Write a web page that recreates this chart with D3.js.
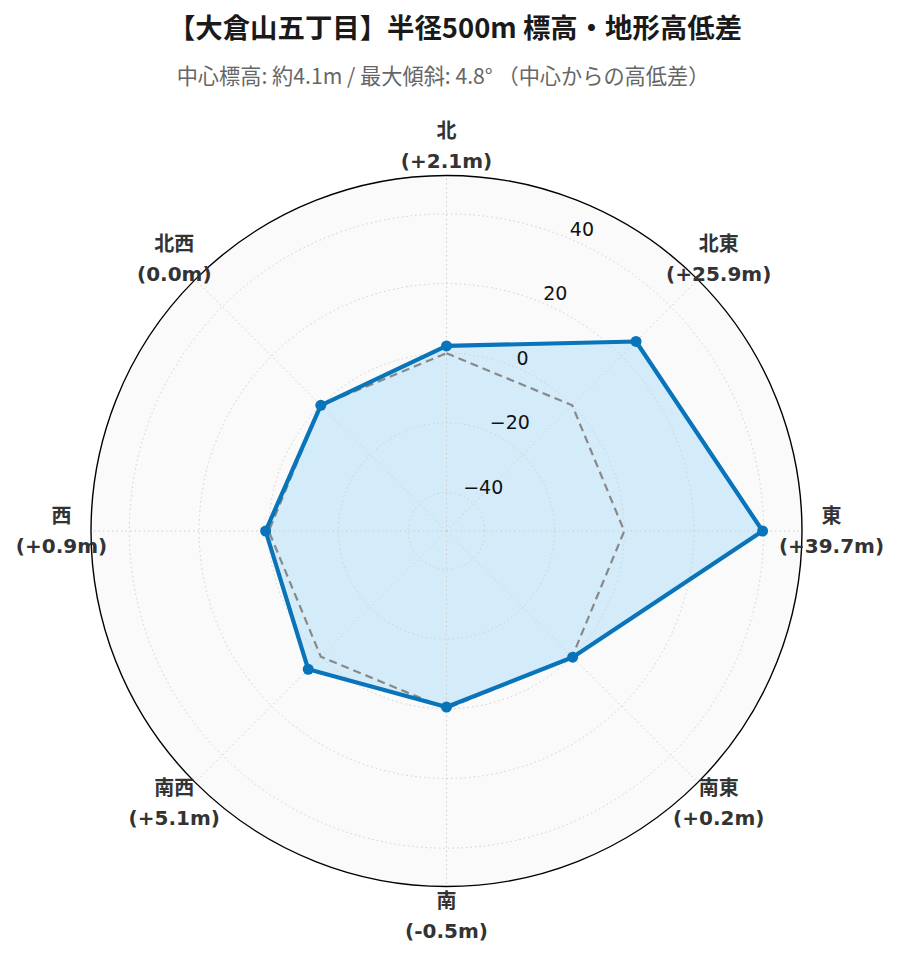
<!DOCTYPE html>
<html>
<head>
<meta charset="utf-8">
<script src="https://cdn.jsdelivr.net/npm/d3@7"></script>
<style>
  body { margin: 0; background: #fff; }
  svg { display: block; }
</style>
</head>
<body>
<svg id="chart"></svg>
<script>
// Directions (clockwise from north) and height difference from centre, m
const directions = ["北", "北東", "東", "南東", "南", "南西", "西", "北西"];
const diffs = [2.1, 25.9, 39.7, 0.2, -0.5, 5.1, 0.9, 0.0];
const diffLabels = ["(+2.1m)", "(+25.9m)", "(+39.7m)", "(+0.2m)", "(-0.5m)", "(+5.1m)", "(+0.9m)", "(0.0m)"];
const radialTicks = [-40, -20, 0, 20, 40];
const rDomain = [-51, 51];

const titleText = "【大倉山五丁目】半径500m 標高・地形高低差";
const subtitleText = "中心標高: 約4.1m / 最大傾斜: 4.8° （中心からの高低差）";

const width = 900, height = 962;
const cx = 446.5, cy = 531, R = 355.5;

const svg = d3.select("#chart")
  .attr("width", width)
  .attr("height", height);

// Title and subtitle
svg.append("text")
  .attr("x", 455).attr("y", 38)
  .attr("text-anchor", "middle")
  .style("font-family", "'Noto Sans CJK JP', sans-serif")
  .style("font-weight", "bold")
  .style("font-size", "27.4px")
  .style("fill", "#1a1a1a")
  .text(titleText);

svg.append("text")
  .attr("x", 443).attr("y", 84)
  .attr("text-anchor", "middle")
  .style("font-family", "'Noto Sans CJK JP', sans-serif")
  .style("font-size", "21.2px")
  .style("fill", "#666")
  .text(subtitleText);

const g = svg.append("g").attr("transform", `translate(${cx},${cy})`);

// Scales
const angle = d3.scalePoint()
  .domain(directions)
  .range([0, 2 * Math.PI * 7 / 8]);
const r = d3.scaleLinear().domain(rDomain).range([0, R]);

const px = (a, rad) => rad * Math.sin(a);
const py = (a, rad) => -rad * Math.cos(a);

// Background disc
g.append("circle").attr("r", R).attr("fill", "#fafafa");

// Data fill (drawn under the grid)
const pts = directions.map((d, i) => [angle(d), r(diffs[i])]);
const radial = d3.lineRadial().angle(d => d[0]).radius(d => d[1]).curve(d3.curveLinearClosed);

g.append("path")
  .attr("d", radial(pts))
  .attr("fill", "#d4ecf9");

// Grid circles
g.selectAll(".ring")
  .data(radialTicks)
  .enter().append("circle")
  .attr("r", d => r(d))
  .attr("fill", "none")
  .attr("stroke", "#cfcfcf")
  .attr("stroke-width", 1)
  .attr("stroke-dasharray", "1.5,3");

// Spokes
g.selectAll(".spoke")
  .data(directions)
  .enter().append("line")
  .attr("x1", 0).attr("y1", 0)
  .attr("x2", d => px(angle(d), R))
  .attr("y2", d => py(angle(d), R))
  .attr("stroke", "#cfcfcf")
  .attr("stroke-width", 1)
  .attr("stroke-dasharray", "1.5,3");

// Zero reference polygon
const zeroPts = directions.map(d => [angle(d), r(0)]);
g.append("path")
  .attr("d", radial(zeroPts))
  .attr("fill", "none")
  .attr("stroke", "#888")
  .attr("stroke-width", 2.2)
  .attr("stroke-dasharray", "8,5");

// Data line
g.append("path")
  .attr("d", radial(pts))
  .attr("fill", "none")
  .attr("stroke", "#0a74ba")
  .attr("stroke-width", 4.2)
  .attr("stroke-linejoin", "round");

g.selectAll(".dot")
  .data(pts)
  .enter().append("circle")
  .attr("cx", d => px(d[0], d[1]))
  .attr("cy", d => py(d[0], d[1]))
  .attr("r", 5.5)
  .attr("fill", "#0a74ba");

// Outer border
g.append("circle").attr("r", R)
  .attr("fill", "none")
  .attr("stroke", "#000")
  .attr("stroke-width", 1.4);

// Radial tick labels at 22.5°
const labAng = Math.PI / 8;
g.selectAll(".rtick")
  .data(radialTicks)
  .enter().append("text")
  .attr("x", d => px(labAng, r(d)) + 2)
  .attr("y", d => py(labAng, r(d)) - 2)
  .style("font-family", "'DejaVu Sans', sans-serif")
  .style("font-size", "19px")
  .style("fill", "#111")
  .text(d => d < 0 ? "\u2212" + Math.abs(d) : d);

// Direction labels
const lab = g.selectAll(".dir")
  .data(directions)
  .enter().append("text")
  .attr("text-anchor", "middle")
  .style("font-family", "'DejaVu Sans', 'Noto Sans CJK JP', sans-serif")
  .style("font-weight", "bold")
  .style("font-size", "20px")
  .style("fill", "#333");

lab.append("tspan")
  .attr("x", d => px(angle(d), 385))
  .attr("y", d => py(angle(d), 385) - 8)
  .text(d => d);

lab.append("tspan")
  .attr("x", d => px(angle(d), 385))
  .attr("y", d => py(angle(d), 385) + 22)
  .text((d, i) => diffLabels[i]);
</script>
</body>
</html>
